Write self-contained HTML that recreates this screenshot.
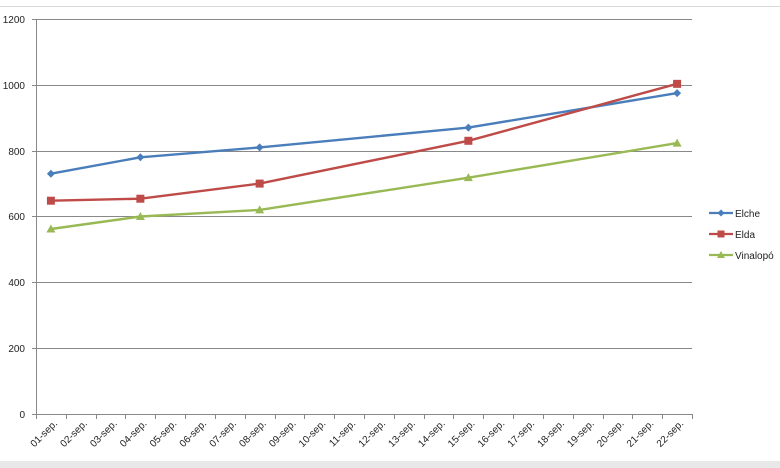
<!DOCTYPE html>
<html><head><meta charset="utf-8"><style>
html,body{margin:0;padding:0;background:#fff;}
svg{display:block;font-family:"Liberation Sans",Calibri,sans-serif;}
</style></head><body>
<svg width="780" height="468" viewBox="0 0 780 468" xmlns="http://www.w3.org/2000/svg">
<rect width="780" height="468" fill="#fff"/>
<line x1="0" y1="6.5" x2="780" y2="6.5" stroke="#d9d9d9" stroke-width="1"/>
<rect x="0" y="461" width="780" height="7" fill="#e8e8e8"/>
<g stroke="#888" stroke-width="1">
<line x1="32" y1="19.5" x2="692" y2="19.5"/>
<line x1="32" y1="85.5" x2="692" y2="85.5"/>
<line x1="32" y1="151.5" x2="692" y2="151.5"/>
<line x1="32" y1="216.5" x2="692" y2="216.5"/>
<line x1="32" y1="282.5" x2="692" y2="282.5"/>
<line x1="32" y1="348.5" x2="692" y2="348.5"/>
<line x1="32" y1="414.5" x2="692" y2="414.5"/>
<line x1="36.5" y1="19" x2="36.5" y2="414"/>
</g>
<g font-size="10" fill="#222" text-anchor="end">
<text x="25" y="23">1200</text><text x="25" y="89">1000</text><text x="25" y="155">800</text>
<text x="25" y="220">600</text><text x="25" y="286">400</text><text x="25" y="352">200</text><text x="25" y="418">0</text>
</g>
<g id="ticks" stroke="#888"></g>
<g id="labels" font-size="10" fill="#222" text-anchor="end"></g>
<g id="series"></g>
<g font-size="10" fill="#222">
<line x1="709" y1="213" x2="733" y2="213" stroke="#4a7ebb" stroke-width="2.2"/><path d="M721 209.5L724.5 213L721 216.5L717.5 213Z" fill="#4a7ebb"/><text x="735" y="217">Elche</text>
<line x1="709" y1="234" x2="733" y2="234" stroke="#be4b48" stroke-width="2.2"/><rect x="717.5" y="230.5" width="7" height="7" fill="#be4b48"/><text x="735" y="238">Elda</text>
<line x1="709" y1="255" x2="733" y2="255" stroke="#98b954" stroke-width="2.2"/><path d="M721 251L725 258L717 258Z" fill="#98b954"/><text x="735" y="259">Vinalopó</text>
</g>
</svg>
<script>
var ns="http://www.w3.org/2000/svg";
function el(t,a,p){var e=document.createElementNS(ns,t);for(var k in a)e.setAttribute(k,a[k]);p.appendChild(e);return e;}
var L=36,W=656/22;
var tk=document.getElementById("ticks"),lb=document.getElementById("labels");
for(var i=0;i<=22;i++){var x=Math.round(L+i*W)+0.5;el("line",{x1:x,y1:414,x2:x,y2:419},tk);}
for(var i=0;i<22;i++){var cx=L+(i+0.5)*W+7;var d=(i+1<10?"0":"")+(i+1)+"-sep.";
var t=el("text",{x:cx,y:424,transform:"rotate(-45 "+cx+" 424)"},lb);t.textContent=d;}
function X(day){return L+(day-0.5)*W;}
function Y(v){return 414-v*395/1200;}
var days=[1,4,8,15,22];
var S=[["#4a7ebb",[730,780,810,870,975],"d"],["#be4b48",[648,654,700,830,1003],"s"],["#98b954",[562,600,620,718,823],"t"]];
var g=document.getElementById("series");
S.forEach(function(s){var pts=days.map(function(d,i){return X(d).toFixed(1)+","+Y(s[1][i]).toFixed(1);}).join(" ");
el("polyline",{points:pts,fill:"none",stroke:s[0],"stroke-width":2.4,"stroke-linejoin":"round"},g);
days.forEach(function(d,i){var x=X(d),y=Y(s[1][i]);
if(s[2]=="d")el("path",{d:"M"+x+" "+(y-4)+"L"+(x+4)+" "+y+"L"+x+" "+(y+4)+"L"+(x-4)+" "+y+"Z",fill:s[0]},g);
else if(s[2]=="s")el("rect",{x:x-4,y:y-4,width:8,height:8,fill:s[0]},g);
else el("path",{d:"M"+x+" "+(y-4.5)+"L"+(x+4.5)+" "+(y+3.5)+"L"+(x-4.5)+" "+(y+3.5)+"Z",fill:s[0]},g);});});
</script>
</body></html>
